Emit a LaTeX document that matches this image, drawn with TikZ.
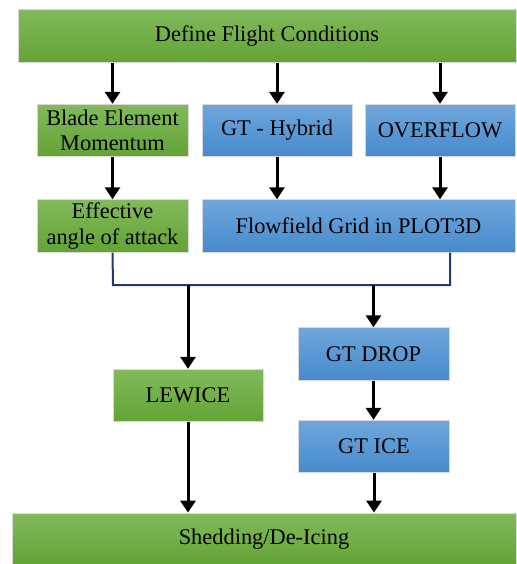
\documentclass[tikz,border=0pt]{standalone}
\usepackage{fontspec}
\setmainfont{Liberation Serif}
\usetikzlibrary{arrows.meta}
\definecolor{vert}{RGB}{112,173,71}
\definecolor{vertclair}{RGB}{130,186,92}
\definecolor{vertfonce}{RGB}{99,163,53}
\definecolor{bleuclair}{RGB}{111,167,220}
\definecolor{bleufonce}{RGB}{70,138,205}
\definecolor{marine}{RGB}{31,56,120}
\begin{document}
\begin{tikzpicture}[x=0.5pt,y=-0.5pt,
  boite/.style={draw=white!70!gray,line width=0.4pt,inner sep=0pt,align=center,
    font=\fontsize{11.2}{12.6}\selectfont,minimum height=26.3pt},
  verte/.style={boite,top color=vertclair,bottom color=vertfonce},
  bleue/.style={boite,top color=bleuclair,bottom color=bleufonce},
  fleche/.style={line width=1.5pt,-{Triangle[width=7.5pt,length=6pt]}},
  bus/.style={line width=1pt,draw=marine}]
\useasboundingbox (0,0) rectangle (516,564);
% ligne du haut
\node[verte,minimum width=249pt] (flight) at (267,36) {Define Flight Conditions};
\node[verte,minimum width=75.5pt] (bem) at (112.5,130.5) {Blade Element\\Momentum};
\node[bleue,minimum width=75pt] (hybrid) at (277,130.5) {GT - Hybrid};
\node[bleue,minimum width=75pt] (overflow) at (440,130.5) {OVERFLOW};
\node[verte,minimum width=75.5pt] (aoa) at (112.5,226) {Effective\\angle of attack};
\node[bleue,minimum width=156.5pt] (grid) at (358.5,226) {Flowfield Grid in PLOT3D};
% bas
\node[verte,minimum width=75pt] (lewice) at (188,395.5) {LEWICE};
\node[bleue,minimum width=75.5pt] (drop) at (373.5,354) {GT DROP};
\node[bleue,minimum width=75.5pt] (ice) at (374,446.5) {GT ICE};
\node[verte,minimum width=252pt,minimum height=26pt] (shed) at (264,539) {Shedding/De-Icing};

\draw[fleche] (flight.south -| bem.north) -- (bem.north);
\draw[fleche] (flight.south -| hybrid.north) -- (hybrid.north);
\draw[fleche] (flight.south -| overflow.north) -- (overflow.north);
\draw[fleche] (bem.south) -- (aoa.north);
\draw[fleche] (hybrid.south) -- (hybrid.south |- grid.north);
\draw[fleche] (overflow.south) -- (overflow.south |- grid.north);

\coordinate (busL) at (113,285);
\coordinate (busR) at (450,285);
\draw[bus] (aoa.south) -- (busL) -- (busR) -- (grid.south -| busR);
\draw[fleche] (busL -| lewice.north) -- (lewice.north);
\draw[fleche] (busL -| drop.north) -- (drop.north);
\draw[fleche] (drop.south) -- (drop.south |- ice.north);
\draw[fleche] (lewice.south) -- (lewice.south |- shed.north);
\draw[fleche] (ice.south) -- (ice.south |- shed.north);
\end{tikzpicture}
\end{document}
